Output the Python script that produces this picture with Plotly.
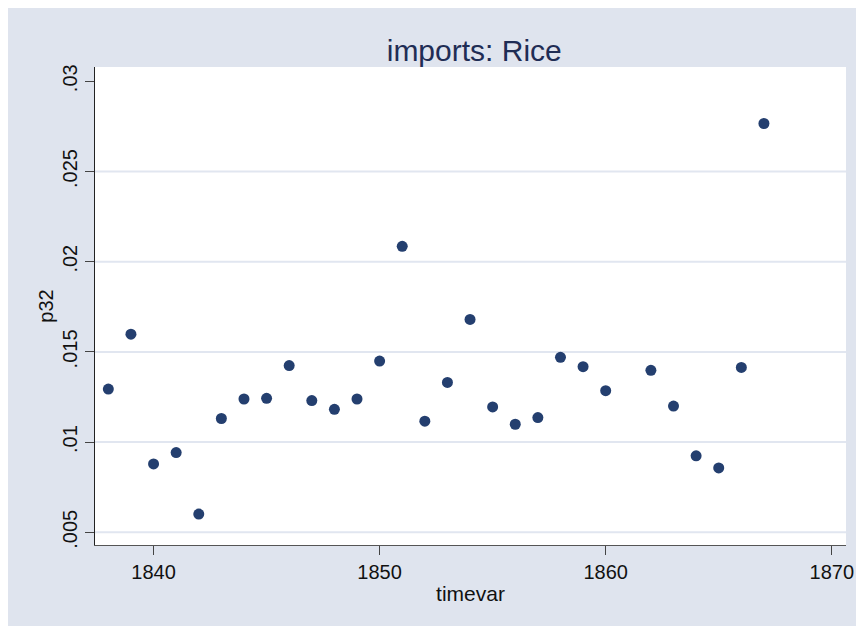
import plotly.graph_objects as go

# ---- data ----
years = [1838, 1839, 1840, 1841, 1842, 1843, 1844, 1845, 1846, 1847, 1848, 1849,
         1850, 1851, 1852, 1853, 1854, 1855, 1856, 1857, 1858, 1859, 1860,
         1862, 1863, 1864, 1865, 1866, 1867]
p32 = [0.01294, 0.01598, 0.00879, 0.00942, 0.00601, 0.01131, 0.01239, 0.01243,
       0.01424, 0.01230, 0.01182, 0.01239, 0.01449, 0.02085, 0.01116, 0.01331,
       0.01680, 0.01195, 0.01099, 0.01136, 0.01470, 0.01418, 0.01285,
       0.01398, 0.01200, 0.00924, 0.00857, 0.01414, 0.02766]

x_ticks = [1840, 1850, 1860, 1870]
x_ticklabels = ["1840", "1850", "1860", "1870"]
y_ticks = [0.005, 0.01, 0.015, 0.02, 0.025, 0.03]
y_ticklabels = [".005", ".01", ".015", ".02", ".025", ".03"]
y_grid = [0.005, 0.01, 0.015, 0.02, 0.025]

title_text = "imports: Rice"
x_title = "timevar"
y_title = "p32"

# ---- style ----
BG = "#DFE4EE"
GRID = "#E1E6F0"
NAVY = "#243F6F"
FONT = "Liberation Sans, Arial, Helvetica, sans-serif"
x_range = [1837.41, 1870.63]
y_range = [0.004298, 0.030791]

fig = go.Figure()
fig.add_trace(go.Scatter(
    x=years, y=p32, mode="markers",
    marker=dict(color=NAVY, size=11, line=dict(width=0)),
    showlegend=False, hoverinfo="x+y",
))

# horizontal gridlines (none at the top tick, like the original)
grid_shapes = [
    dict(type="line", xref="paper", yref="y", x0=0, x1=1, y0=g, y1=g,
         line=dict(color=GRID, width=2), layer="below")
    for g in y_grid
]

fig.update_layout(
    width=864, height=626,
    margin=dict(l=87, r=26, t=58.5, b=89, pad=0),
    paper_bgcolor=BG, plot_bgcolor="white",
    font=dict(family=FONT, color="#111111"),
    title=dict(text=title_text, x=0.505, xref="paper", y=1 - 42 / 626,
               yref="container", xanchor="center", yanchor="middle",
               font=dict(size=30, color="#1F2D55", family=FONT)),
    xaxis=dict(range=x_range, tickvals=x_ticks, ticktext=x_ticklabels,
               showgrid=False, zeroline=False, showline=True,
               linecolor="#555555", linewidth=1, ticks="outside",
               ticklen=9, tickwidth=1, tickcolor="#444444",
               tickfont=dict(size=20, color="#111111"),
               title=dict(text=x_title, font=dict(size=21, color="#111111"),
                          standoff=4),
               automargin=False),
    yaxis=dict(range=y_range, tickvals=y_ticks, ticktext=y_ticklabels,
               showgrid=False, zeroline=False, showline=True,
               linecolor="#222222", linewidth=1, ticks="outside",
               ticklen=9, tickwidth=1, tickcolor="#444444", tickangle=-90,
               tickfont=dict(size=20, color="#111111"),
               title=dict(text=y_title, font=dict(size=20, color="#111111"),
                          standoff=0),
               automargin=False),
    shapes=grid_shapes,
)

fig.write_html("out.html", config={"displayModeBar": False})
